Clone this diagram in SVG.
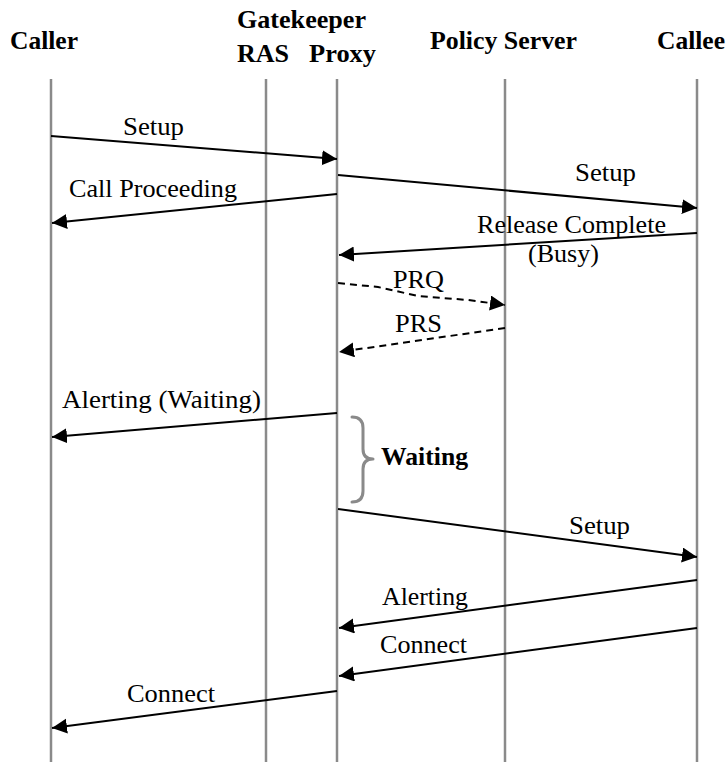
<svg xmlns="http://www.w3.org/2000/svg" width="727" height="762" viewBox="0 0 727 762">
<style>
text{font-family:'Liberation Serif','DejaVu Serif','Noto Serif',serif;font-size:26px;fill:#000}
.hdr{font-weight:bold}
.life{stroke:#8a8a8a;stroke-width:2.5;fill:none}
.msg{stroke:#000;stroke-width:2;fill:none;marker-end:url(#ah)}
.dash{stroke-dasharray:7 5}
.brace{stroke:#8a8a8a;stroke-width:3;fill:none;stroke-linecap:round;stroke-linejoin:round}
</style>
<defs>
<marker id="ah" markerUnits="userSpaceOnUse" markerWidth="16" markerHeight="16" refX="15" refY="7.5" orient="auto">
<path d="M0,0 L15,7.5 L0,15 z" fill="#000"/>
</marker>
</defs>
<rect width="727" height="762" fill="#fff"/>
<g id="caller">
<line class="life" x1="51" y1="79" x2="51" y2="762"/>
<text class="hdr" x="10" y="49" textLength="68" lengthAdjust="spacingAndGlyphs">Caller</text>
</g>
<g id="ras">
<line class="life" x1="266" y1="79" x2="266" y2="762"/>
<text class="hdr" x="237" y="28" textLength="129" lengthAdjust="spacingAndGlyphs">Gatekeeper</text>
<text class="hdr" x="237" y="62" textLength="52" lengthAdjust="spacingAndGlyphs">RAS</text>
</g>
<g id="proxy">
<line class="life" x1="337" y1="79" x2="337" y2="762"/>
<text class="hdr" x="309" y="62" textLength="67" lengthAdjust="spacingAndGlyphs">Proxy</text>
</g>
<g id="policy">
<line class="life" x1="505" y1="79" x2="505" y2="762"/>
<text class="hdr" x="430" y="49" textLength="147" lengthAdjust="spacingAndGlyphs">Policy Server</text>
</g>
<g id="callee">
<line class="life" x1="697" y1="79" x2="697" y2="762"/>
<text class="hdr" x="657" y="49" textLength="68" lengthAdjust="spacingAndGlyphs">Callee</text>
</g>
<g id="waiting">
<path class="brace" d="M352,417 Q363,417 363,428 L363,449 Q363,459 373,459 Q363,459 363,469 L363,491 Q363,502 352,502"/>
<text class="hdr" x="381" y="465" textLength="87" lengthAdjust="spacingAndGlyphs">Waiting</text>
</g>
<g id="connectors">
<path class="msg" d="M51,136 L337,159"/>
<path class="msg" d="M337,194 L52,223"/>
<path class="msg" d="M338,175 L697,208"/>
<path class="msg" d="M697,233 L339,255"/>
<path class="msg dash" d="M338,283 L378,287 L418,296 L468,300 L505,305"/>
<path class="msg dash" d="M505,328 L339,352"/>
<path class="msg" d="M337,413 L52,437"/>
<path class="msg" d="M338,509 L697,557"/>
<path class="msg" d="M697,580 L339,628"/>
<path class="msg" d="M697,628 L339,676"/>
<path class="msg" d="M337,691 L52,728"/>
</g>
<g id="labels">
<text x="123" y="135" textLength="61" lengthAdjust="spacingAndGlyphs">Setup</text>
<text x="69" y="197" textLength="168" lengthAdjust="spacingAndGlyphs">Call Proceeding</text>
<text x="575" y="181" textLength="61" lengthAdjust="spacingAndGlyphs">Setup</text>
<text x="477" y="233" textLength="189" lengthAdjust="spacingAndGlyphs">Release Complete</text>
<text x="528" y="262" textLength="71" lengthAdjust="spacingAndGlyphs">(Busy)</text>
<text x="393" y="288" textLength="51" lengthAdjust="spacingAndGlyphs">PRQ</text>
<text x="395" y="332" textLength="47" lengthAdjust="spacingAndGlyphs">PRS</text>
<text x="62" y="408" textLength="199" lengthAdjust="spacingAndGlyphs">Alerting (Waiting)</text>
<text x="569" y="534" textLength="61" lengthAdjust="spacingAndGlyphs">Setup</text>
<text x="382" y="605" textLength="86" lengthAdjust="spacingAndGlyphs">Alerting</text>
<text x="380" y="653" textLength="87" lengthAdjust="spacingAndGlyphs">Connect</text>
<text x="127" y="702" textLength="88" lengthAdjust="spacingAndGlyphs">Connect</text>
</g>
</svg>
